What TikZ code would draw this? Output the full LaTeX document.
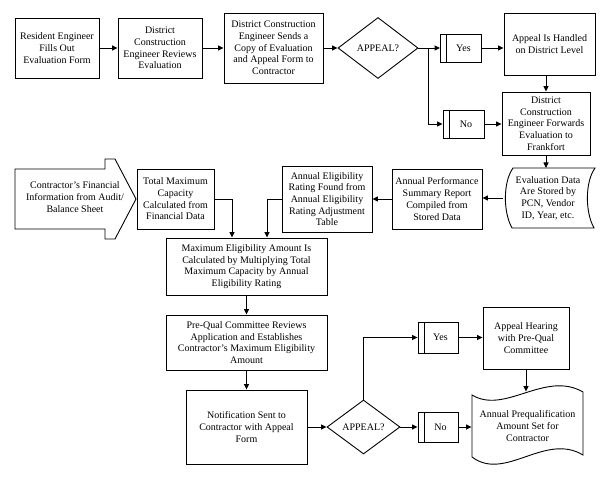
\documentclass[tikz,border=0pt]{standalone}
\usepackage{fontspec}
\setmainfont{Liberation Serif}
\usetikzlibrary{shapes.geometric,arrows.meta,calc}
\newcommand\fs{\fontsize{10}{11.7}\selectfont}
\begin{document}
\begin{tikzpicture}[x=1pt,y=-1pt,
  line width=0.9pt,
  box/.style={draw, align=center, inner sep=1pt, font=\fs},
  plain/.style={align=center, inner sep=1pt, font=\fs},
  tag/.style={draw, align=center, inner sep=1pt, font=\fs, minimum width=41, minimum height=28,
    text depth=0pt,
    path picture={\draw ([xshift=6pt]path picture bounding box.north west) -- ([xshift=6pt]path picture bounding box.south west);}},
  dec/.style={draw, diamond, align=center, inner sep=0pt, font=\fs},
  arr/.style={-{Triangle[length=5.5pt,width=5pt]}}]
\path[use as bounding box] (0,0) rectangle (612,478);

% top row
\node[box, minimum width=84, minimum height=60] (b1) at (57,48) {Resident Engineer\\Fills Out\\Evaluation Form};
\node[box, minimum width=84, minimum height=60] (b2) at (160,48) {District\\Construction\\Engineer Reviews\\Evaluation};
\node[box, minimum width=99, minimum height=70] (b3) at (273.5,48) {District Construction\\Engineer Sends a\\Copy of Evaluation\\and Appeal Form to\\Contractor};
\node[dec, minimum width=80, minimum height=61] (d1) at (378,48) {APPEAL?};
\coordinate (j1) at (428,48);
\node[tag] (yes1) at (461,48) {\hspace{5pt}Yes};
\node[box, minimum width=91, minimum height=62] (ap1) at (549.5,44) {Appeal Is Handled\\on District Level};
\node[tag] (no1) at (463.5,124) {\hspace{5pt}No};
\node[box, minimum width=88, minimum height=63] (fwd) at (546,123.5) {District\\Construction\\Engineer Forwards\\Evaluation to\\Frankfort};

% second row
\node[plain, minimum width=82, minimum height=60] (evd) at (548,198) {Evaluation Data\\Are Stored by\\PCN, Vendor\\ID, Year, etc.};
\draw (513,168) -- (595,168) .. controls (585,182) and (585,212) .. (594,228)
  -- (512,228) .. controls (503,212) and (503,182) .. (513,168) -- cycle;
\node[box, minimum width=90, minimum height=60] (perf) at (437,199) {Annual Performance\\Summary Report\\Compiled from\\Stored Data};
\node[box, minimum width=90, minimum height=66] (elig) at (327,199) {Annual Eligibility\\Rating Found from\\Annual Eligibility\\Rating Adjustment\\Table};
\node[box, minimum width=77, minimum height=60] (tmc) at (175.5,199) {Total Maximum\\Capacity\\Calculated from\\Financial Data};
\node[plain] (fin) at (75,197) {Contractor's Financial\\Information from Audit/\\Balance Sheet};
\draw (15,169) -- (105,169) -- (105,159) -- (115,159) -- (136,199) -- (115,239) -- (105,239) -- (105,229) -- (15,229) -- cycle;

% middle
\node[box, minimum width=161, minimum height=57] (maxel) at (246.5,266.5) {Maximum Eligibility Amount Is\\Calculated by Multiplying Total\\Maximum Capacity by Annual\\Eligibility Rating};
\node[box, minimum width=161, minimum height=55] (preq) at (246.5,342.5) {Pre-Qual Committee Reviews\\Application and Establishes\\Contractor's Maximum Eligibility\\Amount};

% bottom
\node[box, minimum width=121, minimum height=74] (notif) at (246.5,427) {Notification Sent to\\Contractor with Appeal\\Form};
\node[dec, minimum width=73, minimum height=54] (d2) at (363.5,427) {APPEAL?};
\node[tag, minimum width=40, minimum height=31] (yes2) at (438,337.5) {\hspace{5pt}Yes};
\node[tag, minimum width=40, minimum height=30] (no2) at (438,427) {\hspace{5pt}No};
\node[box, minimum width=86, minimum height=62] (hear) at (526,338) {Appeal Hearing\\with Pre-Qual\\Committee};
\node[plain, minimum width=111, minimum height=66] (fin2) at (527.5,426) {Annual Prequalification\\Amount Set for\\Contractor};
\draw (472,395) .. controls (505,415) and (545,370) .. (583,392) -- (583,455)
  .. controls (545,432) and (505,482) .. (472,457) -- cycle;

% connectors
\draw[arr] (b1) -- (b2);
\draw[arr] (b2) -- (b3);
\draw[arr] (b3) -- (d1);
\draw (d1.east) -- (j1);
\draw[arr] (j1) -- (yes1.west);
\draw[arr] (j1) |- (no1.west);
\draw[arr] (yes1.east) -- (yes1.east -| ap1.west);
\draw[arr] (no1.east) -- (no1.east -| fwd.west);
\draw[arr] (fwd.north |- ap1.south) -- (fwd.north);
\draw[arr] (fwd.south) -- (fwd.south |- 0,168);
\draw[arr] ([xshift=-4pt]evd.west) -- (perf.east |- evd.west);
\draw[arr] (perf.west) -- (elig.east |- perf.west);
\draw[arr] (tmc.east) -| ([xshift=-14.5pt]maxel.north);
\draw[arr] (elig.west) -| ([xshift=20.5pt]maxel.north);
\draw[arr] (maxel.south) -- (preq.north);
\draw[arr] (preq.south) -- (notif.north);
\draw[arr] (notif.east) -- (d2.west);
\draw[arr] (d2.north) |- (yes2.west);
\draw[arr] (d2.east) -- (no2.west);
\draw[arr] (yes2.east) -- (yes2.east -| hear.west);
\draw[arr] (no2.east) -- (no2.east -| fin2.west);
\draw[arr] (hear.south) -- ([yshift=1pt]hear.south |- fin2.north);
\end{tikzpicture}
\end{document}
